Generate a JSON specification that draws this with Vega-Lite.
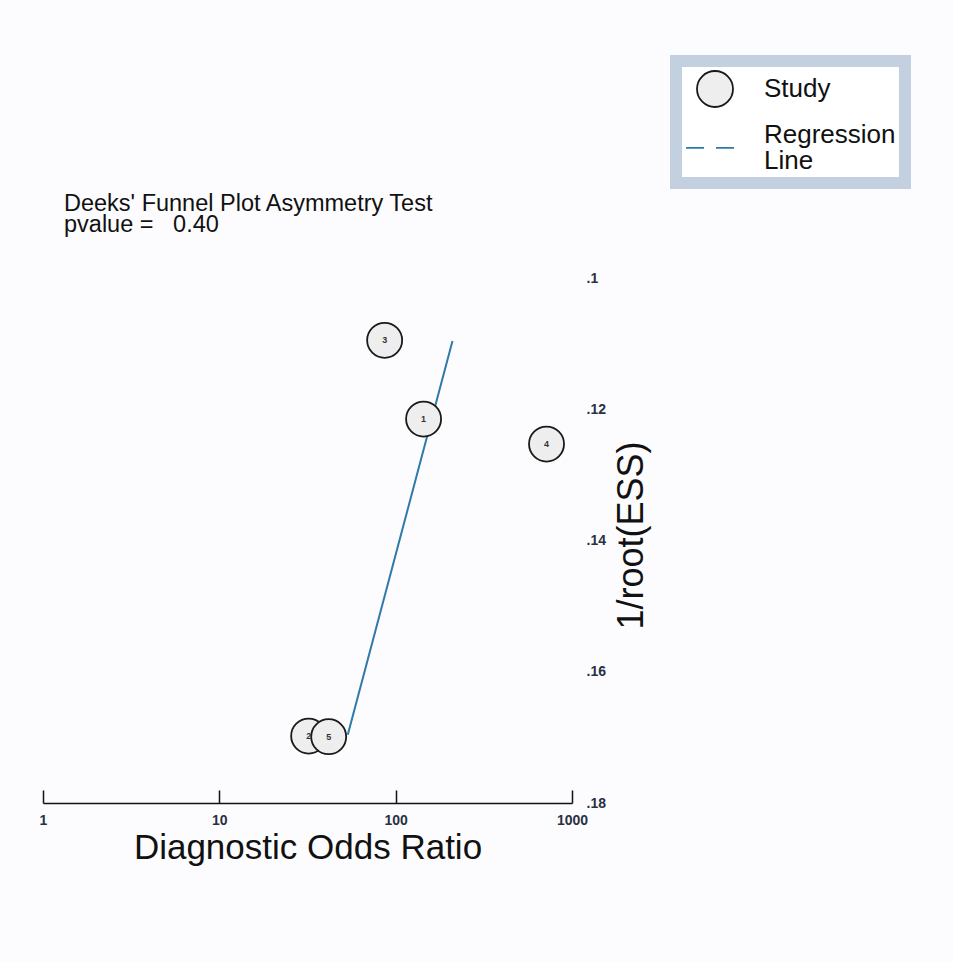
{
  "$schema": "https://vega.github.io/schema/vega-lite/v6.json",
  "width": 529,
  "height": 525,
  "autosize": {"type": "none"},
  "padding": {"left": 43, "top": 278, "right": 381, "bottom": 159},
  "background": "#fcfcfe",
  "title": {
    "text": "Deeks' Funnel Plot Asymmetry Test",
    "subtitle": "pvalue\u00a0=\u00a0\u00a0 0.40",
    "orient": "top",
    "anchor": "start",
    "frame": "group",
    "dx": 21,
    "offset": -181,
    "font": "Liberation Sans",
    "fontSize": 23.5,
    "fontWeight": "normal",
    "color": "#111111",
    "subtitleFont": "Liberation Sans",
    "subtitleFontSize": 23.5,
    "subtitleColor": "#111111",
    "subtitlePadding": -3
  },
  "config": {
    "view": {"stroke": null},
    "font": "Liberation Sans",
    "legend": {
      "orient": "none",
      "legendX": 633,
      "legendY": -217,
      "strokeColor": "#c3d0df",
      "strokeWidth": 12,
      "fillColor": "#ffffff",
      "padding": 9,
      "labelFont": "Liberation Sans",
      "labelFontSize": 26,
      "labelColor": "#111111",
      "labelOffset": 30,
      "labelLimit": 500,
      "rowPadding": 5,
      "symbolSize": 1296,
      "symbolOffset": 11,
      "symbolStrokeWidth": 1.8,
      "symbolOpacity": 1,
      "titlePadding": 0
    }
  },
  "data": {
    "values": [
      {"study": "1", "dor": 144, "ess": 0.1215, "group": "Study"},
      {"study": "2", "dor": 32.1, "ess": 0.1698, "group": "Study"},
      {"study": "3", "dor": 86.6, "ess": 0.1095, "group": "Study"},
      {"study": "4", "dor": 717, "ess": 0.1253, "group": "Study"},
      {"study": "5", "dor": 41.7, "ess": 0.1699, "group": "Study"},
      {"study": "", "dor": 53.5, "ess": 0.1696, "group": "Regression Line"},
      {"study": "", "dor": 210, "ess": 0.1096, "group": "Regression Line"}
    ]
  },
  "encoding": {
    "x": {
      "field": "dor",
      "type": "quantitative",
      "scale": {"type": "log", "domain": [1, 1000], "nice": false},
      "axis": {
        "values": [1, 10, 100, 1000],
        "format": "d",
        "labelFlush": false,
        "grid": false,
        "domainColor": "#111111",
        "domainWidth": 1.5,
        "tickColor": "#111111",
        "tickWidth": 1.5,
        "tickSize": -13,
        "labelPadding": 30,
        "labelBaseline": "middle",
        "labelFontSize": 14,
        "labelFontWeight": "bold",
        "labelColor": "#2a3040",
        "title": "Diagnostic Odds Ratio",
        "titleFontSize": 35,
        "titleFontWeight": "normal",
        "titleColor": "#111111",
        "titleBaseline": "alphabetic",
        "titleY": 55
      }
    },
    "y": {
      "field": "ess",
      "type": "quantitative",
      "scale": {"domain": [0.1, 0.18], "reverse": true, "nice": false, "zero": false},
      "axis": {
        "orient": "right",
        "values": [0.1, 0.12, 0.14, 0.16, 0.18],
        "labelExpr": "substring(format(datum.value, '.2~f'), 1)",
        "domain": false,
        "ticks": false,
        "grid": false,
        "labelPadding": 14,
        "labelBaseline": "middle",
        "labelFontSize": 14,
        "labelFontWeight": "bold",
        "labelColor": "#2a3040",
        "title": "1/root(ESS)",
        "titleFontSize": 36,
        "titleFontWeight": "normal",
        "titleColor": "#111111",
        "titleAngle": 270,
        "titleAlign": "center",
        "titleBaseline": "middle",
        "titleX": 59,
        "titleY": 257
      }
    }
  },
  "layer": [
    {
      "transform": [{"filter": "datum.group == 'Regression Line'"}],
      "mark": {"type": "line", "color": "#2f7aa8", "strokeWidth": 2}
    },
    {
      "transform": [{"filter": "datum.group == 'Study'"}],
      "mark": {"type": "point", "size": 1225, "opacity": 1, "fillOpacity": 1, "strokeWidth": 1.8},
      "encoding": {
        "shape": {
          "field": "group",
          "type": "nominal",
          "scale": {"domain": ["Study", "Regression Line"], "range": ["circle", "M-1.611,0.72L-0.611,0.72M0.056,0.72L1.056,0.72"]},
          "legend": {"title": null, "labelExpr": "datum.label == 'Regression Line' ? ['Regression', 'Line'] : datum.label", "encode": {"labels": {"update": {"lineHeight": {"value": 26}}}}}
        },
        "fill": {
          "field": "group",
          "type": "nominal",
          "scale": {"domain": ["Study", "Regression Line"], "range": ["#eeeeee", "#ffffff"]},
          "legend": {"title": null, "labelExpr": "datum.label == 'Regression Line' ? ['Regression', 'Line'] : datum.label", "encode": {"labels": {"update": {"lineHeight": {"value": 26}}}}}
        },
        "stroke": {
          "field": "group",
          "type": "nominal",
          "scale": {"domain": ["Study", "Regression Line"], "range": ["#1a1a1a", "#2f7aa8"]},
          "legend": {"title": null, "labelExpr": "datum.label == 'Regression Line' ? ['Regression', 'Line'] : datum.label", "encode": {"labels": {"update": {"lineHeight": {"value": 26}}}}}
        }
      }
    },
    {
      "transform": [{"filter": "datum.group == 'Study'"}],
      "mark": {"type": "text", "fontSize": 9, "fontWeight": "bold", "color": "#333333"},
      "encoding": {"text": {"field": "study"}}
    }
  ]
}
